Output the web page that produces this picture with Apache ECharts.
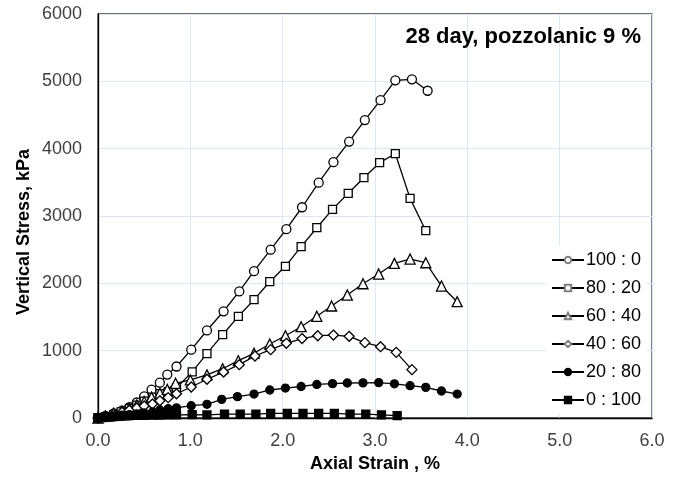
<!DOCTYPE html>
<html>
<head>
<meta charset="utf-8">
<script src="https://cdn.jsdelivr.net/npm/echarts@6/dist/echarts.min.js"></script>
<style>
  html, body { margin: 0; padding: 0; background: #fff; }
  #chart { width: 683px; height: 478px; }
</style>
</head>
<body>
<div id="chart"></div>
<script>
// mix ratios (legend names)
const seriesNames = ["100 : 0", "80 : 20", "60 : 40", "40 : 60", "20 : 80", "0 : 100"];

// axial strain, %  /  vertical stress, kPa
const strain100 = [0, 0.08, 0.17, 0.26, 0.34, 0.42, 0.50, 0.58, 0.67, 0.75, 0.85, 1.01, 1.18, 1.36, 1.53, 1.69, 1.87, 2.04, 2.21, 2.39, 2.55, 2.72, 2.89, 3.06, 3.22, 3.40, 3.57];
const stress100 = [0, 30, 70, 110, 160, 230, 320, 420, 525, 645, 765, 1015, 1300, 1585, 1880, 2180, 2500, 2805, 3130, 3495, 3800, 4105, 4425, 4720, 5015, 5030, 4860];

const strain80 = [0, 0.08, 0.17, 0.25, 0.34, 0.42, 0.50, 0.59, 0.67, 0.76, 0.85, 1.02, 1.18, 1.35, 1.52, 1.69, 1.86, 2.03, 2.20, 2.37, 2.54, 2.71, 2.88, 3.05, 3.22, 3.38, 3.55];
const stress80 = [0, 20, 50, 90, 140, 190, 250, 310, 360, 390, 450, 685, 955, 1237, 1510, 1757, 2024, 2253, 2544, 2826, 3099, 3337, 3569, 3792, 3925, 3262, 2782];

const strain60 = [0, 0.08, 0.17, 0.26, 0.34, 0.42, 0.50, 0.58, 0.67, 0.75, 0.84, 1.00, 1.18, 1.35, 1.52, 1.69, 1.86, 2.03, 2.20, 2.37, 2.53, 2.70, 2.87, 3.04, 3.21, 3.38, 3.55, 3.72, 3.89];
const stress60 = [0, 30, 70, 100, 145, 195, 245, 310, 370, 425, 515, 565, 640, 732, 851, 961, 1099, 1222, 1356, 1510, 1663, 1826, 1994, 2138, 2297, 2361, 2306, 1960, 1727];

const strain40 = [0, 0.08, 0.17, 0.26, 0.34, 0.42, 0.50, 0.59, 0.67, 0.76, 0.85, 1.01, 1.18, 1.36, 1.53, 1.70, 1.87, 2.04, 2.21, 2.38, 2.55, 2.72, 2.89, 3.06, 3.23, 3.40];
const stress40 = [0, 25, 55, 85, 115, 148, 178, 208, 255, 302, 360, 460, 575, 683, 792, 921, 1015, 1109, 1180, 1222, 1232, 1213, 1119, 1059, 975, 718];

const strain20 = [0, 0.08, 0.17, 0.26, 0.34, 0.42, 0.50, 0.59, 0.67, 0.76, 0.85, 1.01, 1.18, 1.34, 1.51, 1.69, 1.86, 2.03, 2.20, 2.37, 2.54, 2.70, 2.87, 3.04, 3.21, 3.38, 3.55, 3.72, 3.89];
const stress20 = [0, 15, 30, 42, 50, 60, 74, 89, 119, 138, 150, 183, 203, 277, 317, 356, 416, 445, 468, 498, 510, 520, 522, 525, 508, 480, 455, 401, 356];

const strain0 = [0, 0.04, 0.08, 0.13, 0.17, 0.21, 0.25, 0.30, 0.34, 0.42, 0.50, 0.59, 0.67, 0.76, 0.85, 1.02, 1.18, 1.37, 1.54, 1.71, 1.87, 2.05, 2.22, 2.39, 2.56, 2.73, 2.90, 3.07, 3.24];
const stress0 = [0, 5, 10, 15, 20, 25, 28, 32, 35, 38, 40, 42, 44, 45, 45, 50, 45, 59, 59, 59, 69, 69, 69, 69, 69, 59, 59, 45, 35];

const xTicks = [0, 1, 2, 3, 4, 5, 6];

const FONT = "'Liberation Sans', Arial, sans-serif";

function pairs(xs, ys) {
  return xs.map((x, i) => [x, ys[i]]);
}

// marker look per series: symbol, size, filled?
const markers = [
  ["circle", 9, false],
  ["rect", 8, false],
  ["triangle", 10, false],
  ["diamond", 10, false],
  ["circle", 8, true],
  ["rect", 8, true],
];
const allData = [
  pairs(strain100, stress100),
  pairs(strain80, stress80),
  pairs(strain60, stress60),
  pairs(strain40, stress40),
  pairs(strain20, stress20),
  pairs(strain0, stress0),
];

const myChart = echarts.init(document.getElementById("chart"));

const option = {
  backgroundColor: "#fff",
  animation: false,
  title: {
    text: "28 day, pozzolanic 9 %",
    right: 42,
    top: 26,
    padding: 0,
    textStyle: { fontFamily: FONT, fontSize: 22, fontWeight: "bold", color: "#000" },
  },
  // y axis title sits a bit lower than the plot centre in the original
  graphic: [
    {
      type: "text",
      x: 24,
      y: 232,
      rotation: Math.PI / 2,
      style: {
        text: "Vertical Stress, kPa",
        fontFamily: FONT,
        fontSize: 18,
        fontWeight: "bold",
        fill: "#000",
        align: "center",
        verticalAlign: "middle",
      },
    },
  ],
  grid: {
    left: 98,
    right: 31,
    top: 14,
    bottom: 60,
    show: true,
    borderColor: "#404040",
    borderWidth: 1.3,
  },
  legend: {
    orient: "vertical",
    left: 546,
    top: 246,
    padding: [5, 5, 5, 5],
    backgroundColor: "#fff",
    itemWidth: 32,
    itemHeight: 8,
    itemGap: 10,
    textStyle: { fontFamily: FONT, fontSize: 18, color: "#000", padding: [0, 0, 0, -3] },
    data: seriesNames.map((n, i) => ({
      name: n,
      itemStyle: markers[i][2] ? { color: "#000", borderColor: "#000" } : { color: "#fff", borderColor: "#7f7f7f" },
    })),
  },
  xAxis: {
    type: "value",
    min: 0,
    max: 6,
    interval: 1,
    name: "Axial Strain , %",
    nameLocation: "middle",
    nameGap: 33,
    nameTextStyle: { fontFamily: FONT, fontSize: 18, fontWeight: "bold", color: "#000" },
    axisLine: { lineStyle: { color: "#000", width: 1.3 } },
    axisTick: { show: false },
    axisLabel: {
      fontFamily: FONT,
      fontSize: 18,
      color: "#404040",
      margin: 14,
      customValues: xTicks,
      formatter: (v) => v.toFixed(1),
    },
    splitLine: { lineStyle: { color: "#dce6f4", width: 1 } },
  },
  yAxis: {
    type: "value",
    min: 0,
    max: 6000,
    interval: 1000,
    axisLine: { show: true, lineStyle: { color: "#000", width: 1.3 } },
    axisTick: { show: false },
    axisLabel: { fontFamily: FONT, fontSize: 18, color: "#404040", margin: 16, formatter: (v) => String(v) },
    splitLine: { lineStyle: { color: "#dce6f4", width: 1 } },
  },
  series: seriesNames.map((n, i) => ({
    name: n,
    type: "line",
    data: allData[i],
    clip: false,
    symbol: markers[i][0],
    symbolSize: markers[i][1],
    showAllSymbol: true,
    lineStyle: { color: "#000", width: 1.3 },
    itemStyle: {
      color: markers[i][2] ? "#000" : "#fff",
      borderColor: "#000",
      borderWidth: 1.3,
    },
    emphasis: { disabled: true },
  })),
};

myChart.setOption(option);
</script>
</body>
</html>
